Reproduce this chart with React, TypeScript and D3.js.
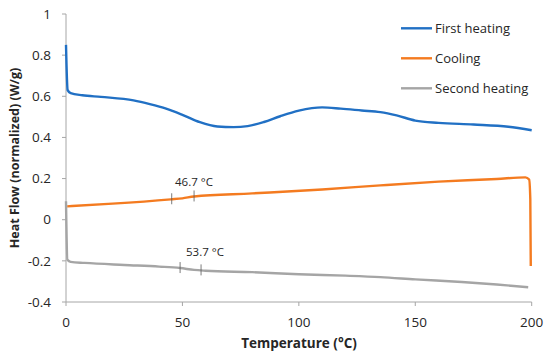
import React from "react";
import * as d3 from "d3";

const xTicks = [0, 50, 100, 150, 200];
const yTicks = [1, 0.8, 0.6, 0.4, 0.2, 0, -0.2, -0.4];
const yTickLabels = ["1", "0.8", "0.6", "0.4", "0.2", "0", "-0.2", "-0.4"];

const firstHeating: [number, number][] = [
  [0, 0.85], [0.7, 0.63], [2, 0.615], [7, 0.605], [15, 0.597], [29, 0.58], [36, 0.562],
  [43, 0.54], [50, 0.51], [57.5, 0.474], [65, 0.453], [72, 0.45], [78, 0.455], [85, 0.475],
  [92, 0.503], [100, 0.53], [110, 0.546], [118, 0.54], [127, 0.531], [135, 0.523],
  [142, 0.507], [150, 0.482], [160, 0.471], [175, 0.463], [190, 0.452], [200, 0.435],
];
const cooling: [number, number][] = [
  [0.5, 0.065], [20, 0.078], [45, 0.099], [50, 0.104], [55, 0.113], [80, 0.128],
  [110, 0.147], [135, 0.167], [160, 0.185], [185, 0.198], [197.3, 0.206], [198.9, 0.195],
  [199.4, 0.1], [199.6, -0.225],
];
const secondHeating: [number, number][] = [
  [0, 0.09], [0.6, -0.195], [2, -0.205], [8, -0.21], [25, -0.22], [40, -0.228], [49, -0.235],
  [55, -0.244], [60, -0.248], [80, -0.255], [100, -0.265], [120, -0.272], [135, -0.279],
  [150, -0.29], [170, -0.303], [185, -0.315], [198.5, -0.328],
];

const coolingMarks = [45.4, 55];
const secondMarks = [49, 58];
const coolingLabel = "46.7 °C";
const secondLabel = "53.7 °C";

const seriesNames = ["First heating", "Cooling", "Second heating"];
const seriesColors = ["#2170c4", "#f47b20", "#a5a5a5"];

const FONT = "'Open Sans', sans-serif";

export default function App() {
  const W = 550, H = 354;
  const x = d3.scaleLinear().domain([0, 200]).range([66, 531.7]);
  const y = d3.scaleLinear().domain([-0.4, 1]).range([302, 14]);
  const line = d3.line<[number, number]>().x(d => x(d[0])).y(d => y(d[1])).curve(d3.curveMonotoneX);
  const series = [firstHeating, cooling, secondHeating];

  const interp = (data: [number, number][], t: number) => {
    for (let i = 0; i < data.length - 1; i++) {
      if (t >= data[i][0] && t <= data[i + 1][0]) {
        const f = (t - data[i][0]) / (data[i + 1][0] - data[i][0]);
        return data[i][1] + f * (data[i + 1][1] - data[i][1]);
      }
    }
    return data[data.length - 1][1];
  };

  const axisColor = "#a6a6a6";
  return (
    <svg width={W} height={H} style={{ position: "absolute", left: 0, top: 0, background: "#fff" }} fontFamily={FONT}>
      {/* axes */}
      <line x1={x(0)} x2={x(0)} y1={y(1)} y2={y(-0.4)} stroke={axisColor} strokeWidth={1} />
      <line x1={x(0)} x2={x(200)} y1={y(-0.4)} y2={y(-0.4)} stroke={axisColor} strokeWidth={1} />
      {yTicks.map((t, i) => (
        <g key={"y" + i}>
          <line x1={x(0) - 4} x2={x(0)} y1={y(t)} y2={y(t)} stroke={axisColor} />
          <text x={51} y={y(t)} dy="0.35em" textAnchor="end" fontSize={13.5} fill="#262626">{yTickLabels[i]}</text>
        </g>
      ))}
      {xTicks.map((t, i) => (
        <g key={"x" + i}>
          <line x1={x(t)} x2={x(t)} y1={y(-0.4)} y2={y(-0.4) + 4} stroke={axisColor} />
          <text x={x(t)} y={322} dy="0.35em" textAnchor="middle" fontSize={13.5} fill="#262626">{t}</text>
        </g>
      ))}
      <text x={299} y={343} dy="0.35em" textAnchor="middle" fontSize={13.5} fontWeight="bold" fill="#262626">Temperature (°C)</text>
      <text transform={`translate(15,${y(0.3)}) rotate(-90)`} dy="0.35em" textAnchor="middle" fontSize={12.5} fontWeight="bold" fill="#262626">Heat Flow (normalized) (W/g)</text>

      {series.map((s, i) => (
        <path key={"s" + i} d={line(s) || ""} fill="none" stroke={seriesColors[i]} strokeWidth={2.4} strokeLinejoin="round" />
      ))}

      {coolingMarks.map((m, i) => (
        <line key={"cm" + i} x1={x(m)} x2={x(m)} y1={y(interp(cooling, m)) - 6} y2={y(interp(cooling, m)) + 5} stroke="#595959" strokeWidth={0.8} />
      ))}
      {secondMarks.map((m, i) => (
        <line key={"sm" + i} x1={x(m)} x2={x(m)} y1={y(interp(secondHeating, m)) - 6} y2={y(interp(secondHeating, m)) + 5} stroke="#595959" strokeWidth={0.8} />
      ))}
      <text x={175} y={182} dy="0.35em" fontSize={11.5} fill="#262626">{coolingLabel}</text>
      <text x={186} y={252} dy="0.35em" fontSize={11.5} fill="#262626">{secondLabel}</text>

      {seriesNames.map((n, i) => (
        <g key={"l" + i}>
          <line x1={401} x2={432} y1={28.3 + i * 30} y2={28.3 + i * 30} stroke={seriesColors[i]} strokeWidth={2.4} />
          <text x={435} y={28.3 + i * 30} dy="0.35em" fontSize={13} fill="#262626">{n}</text>
        </g>
      ))}
    </svg>
  );
}
